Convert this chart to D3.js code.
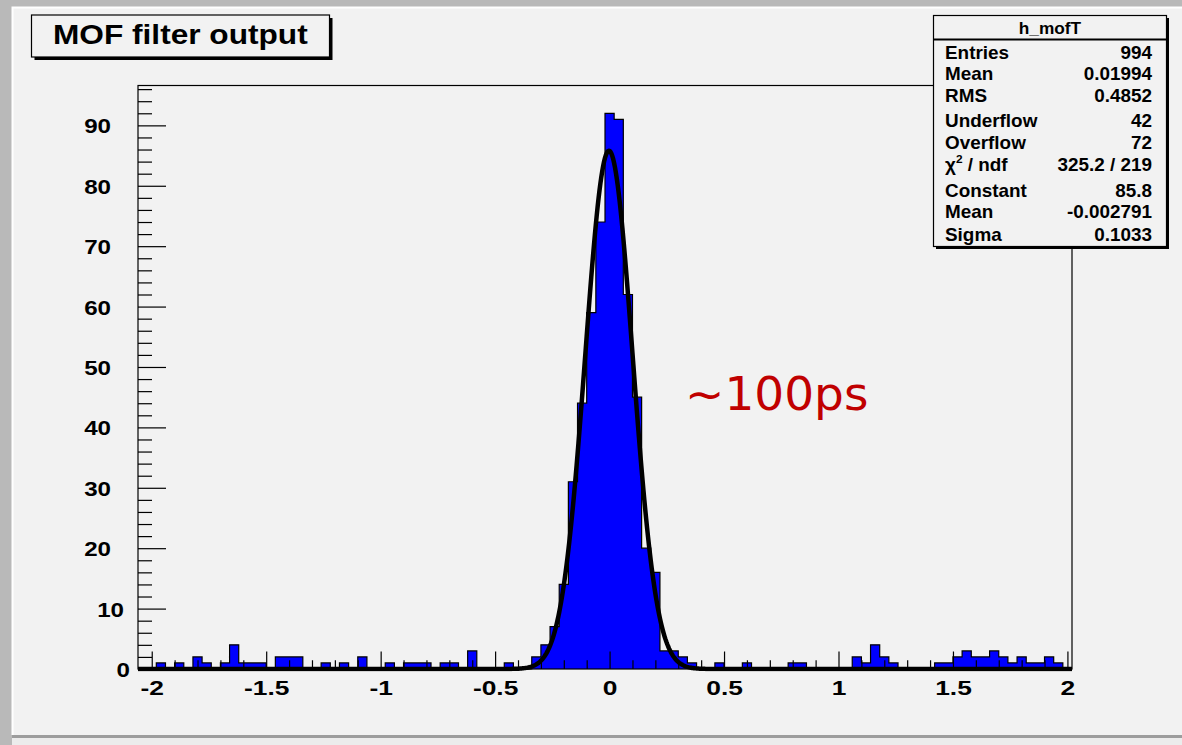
<!DOCTYPE html>
<html>
<head>
<meta charset="utf-8">
<script src="https://cdn.jsdelivr.net/npm/d3@7/dist/d3.min.js"></script>
<style>
  body { margin: 0; background: #b9b9b9; }
  svg { display: block; }
  text { font-family: "Liberation Sans", Arial, sans-serif; font-weight: bold; fill: #000; }
</style>
</head>
<body>
<div id="chart"></div>
<script>
// MOF filter output histogram (ROOT style) with gaussian fit

var svgWidth = 1182;
var svgHeight = 745;

// plot frame inside the canvas
var frame = { left: 138, right: 1072, top: 85.5, bottom: 669 };

// binning of h_mofT (visible range)
var xMin = -2.06;
var xMax = 2.02;
var binWidth = 0.04;

// bin contents, bins centred on -2.04, -2.00, ... 2.00
var counts = [
  0, 0, 1, 0, 1, 0, 2, 1, 0, 1,
  4, 1, 1, 1, 0, 2, 2, 2, 0, 0,
  1, 0, 1, 0, 2, 0, 0, 1, 0, 1,
  1, 1, 0, 1, 1, 0, 3, 0, 0, 0,
  1, 0, 0, 2, 4, 7, 14, 31, 44, 59,
  74, 92, 91, 62, 45, 20, 16, 3, 3, 2,
  1, 0, 0, 1, 0, 0, 1, 0, 0, 0,
  0, 1, 1, 0, 0, 0, 0, 0, 2, 1,
  4, 2, 1, 0, 0, 0, 0, 1, 1, 2,
  3, 2, 2, 3, 2, 1, 2, 1, 1, 2,
  1, 0
];

var xTicks = [-2, -1.5, -1, -0.5, 0, 0.5, 1, 1.5, 2];
var yTicks = [0, 10, 20, 30, 40, 50, 60, 70, 80, 90];

// fit result shown in the stats box
var fitConstant = 85.8;
var fitMean = -0.002791;
var fitSigma = 0.1033;

var statsTitle = "h_mofT";
var statsLabels = ["Entries", "Mean", "RMS", "Underflow", "Overflow", "chi2", "Constant", "Mean", "Sigma"];
var statsValues = ["994", "0.01994", "0.4852", "42", "72", "325.2 / 219", "85.8", "-0.002791", "0.1033"];
var statsBaselines = [58.5, 80, 101.5, 127, 148.5, 170.5, 196.5, 218, 240.5];

var svg = d3.select("#chart")
    .append("svg")
    .attr("width", svgWidth)
    .attr("height", svgHeight);

// canvas background + slide border
svg.append("rect").attr("width", svgWidth).attr("height", svgHeight).attr("fill", "#b9b9b9");
svg.append("rect")
    .attr("x", 12).attr("y", 7)
    .attr("width", svgWidth - 12).attr("height", 728)
    .attr("fill", "#f2f2f2");
svg.append("path")
    .attr("d", "M12.5,735 V7.5 H1182")
    .attr("stroke", "#ffffff").attr("stroke-width", 2).attr("fill", "none");
svg.append("rect").attr("x", 12).attr("y", 735).attr("width", svgWidth - 12).attr("height", 3).attr("fill", "#9d9d9d");
svg.append("rect").attr("x", 12).attr("y", 738).attr("width", svgWidth - 12).attr("height", 7).attr("fill", "#ececec");

var xScale = d3.scaleLinear()
    .domain([xMin, xMax])
    .range([frame.left, frame.right]);

var yScale = d3.scaleLinear()
    .domain([0, d3.max(counts) * 1.05])
    .range([frame.bottom, frame.top]);

// clip a little below the frame so the fit line lying on zero stays thick
svg.append("clipPath").attr("id", "frameClip")
  .append("rect")
    .attr("x", frame.left).attr("y", frame.top)
    .attr("width", frame.right - frame.left)
    .attr("height", frame.bottom - frame.top + 2.5);

var plot = svg.append("g").attr("clip-path", "url(#frameClip)");

// histogram as a step shape
var steps = [];
counts.forEach(function(c, i) {
    var x0 = xMin + i * binWidth;
    steps.push([x0, c]);
    steps.push([x0 + binWidth, c]);
});

var area = d3.area()
    .x(d => xScale(d[0]))
    .y0(yScale(0))
    .y1(d => yScale(d[1]));

var outline = d3.line()
    .x(d => xScale(d[0]))
    .y(d => yScale(d[1]));

plot.append("path")
    .datum(steps)
    .attr("d", area)
    .attr("fill", "#0000ff");

plot.append("path")
    .datum(steps)
    .attr("d", outline)
    .attr("fill", "none")
    .attr("stroke", "#000")
    .attr("stroke-width", 1.2);

// gaussian fit from the fitted parameters
function gaus(v) {
    var t = (v - fitMean) / fitSigma;
    return fitConstant * Math.exp(-0.5 * t * t);
}
var fitPoints = d3.range(xMin, xMax + 1e-9, 0.004).map(v => [v, gaus(v)]);

plot.append("path")
    .datum(fitPoints)
    .attr("d", outline)
    .attr("fill", "none")
    .attr("stroke", "#000")
    .attr("stroke-width", 4.5)
    .attr("stroke-linejoin", "round");

// frame
svg.append("rect")
    .attr("x", frame.left).attr("y", frame.top)
    .attr("width", frame.right - frame.left)
    .attr("height", frame.bottom - frame.top)
    .attr("fill", "none")
    .attr("stroke", "#000")
    .attr("stroke-width", 1.2);

// x axis, ticks pointing into the frame
var xMinor = d3.range(-20, 21).map(k => k / 10).filter(v => Math.abs(v * 2 - Math.round(v * 2)) > 1e-6);

svg.append("g")
    .attr("transform", `translate(0, ${frame.bottom})`)
    .call(d3.axisBottom(xScale).tickValues(xMinor).tickSizeInner(-8.75).tickSizeOuter(0).tickFormat(""));

var xAxis = svg.append("g")
    .attr("transform", `translate(0, ${frame.bottom})`)
    .call(d3.axisBottom(xScale).tickValues(xTicks).tickSizeInner(-17.5).tickSizeOuter(0)
        .tickFormat(d => String(d)));

xAxis.selectAll("text")
    .attr("y", 0).attr("dy", 0)
    .attr("transform", "translate(0, 25.5) scale(1.32, 1)")
    .style("font-size", "20px");

// y axis
var yMinor = d3.range(0, 97, 2).filter(v => v % 10 !== 0);

svg.append("g")
    .attr("transform", `translate(${frame.left}, 0)`)
    .call(d3.axisLeft(yScale).tickValues(yMinor).tickSizeInner(-14).tickSizeOuter(0).tickFormat(""));

var yAxis = svg.append("g")
    .attr("transform", `translate(${frame.left}, 0)`)
    .call(d3.axisLeft(yScale).tickValues(yTicks).tickSizeInner(-28).tickSizeOuter(0));

// the low labels sit closer to the axis in the original
yAxis.selectAll("text")
    .attr("x", 0).attr("dy", 0)
    .attr("transform", d => `translate(${d === 0 ? -8 : d === 10 ? -14 : -27}, 7.5) scale(1.15, 1)`)
    .style("font-size", "21px");

svg.selectAll(".domain").remove();
svg.selectAll(".tick line").attr("stroke", "#000").attr("stroke-width", 1.2);

// title box
var titleBox = svg.append("g");
titleBox.append("rect")
    .attr("x", 34.5).attr("y", 18).attr("width", 298).attr("height", 42)
    .attr("fill", "#000");
titleBox.append("rect")
    .attr("x", 31.5).attr("y", 15).attr("width", 298).attr("height", 42)
    .attr("fill", "#f2f2f2").attr("stroke", "#000").attr("stroke-width", 1.2);
titleBox.append("text")
    .attr("transform", "translate(53, 44) scale(1.13, 1)")
    .style("font-size", "28px")
    .text("MOF filter output");

// stats box
var stats = svg.append("g");
stats.append("rect")
    .attr("x", 936).attr("y", 18).attr("width", 233).attr("height", 231)
    .attr("fill", "#000");
stats.append("rect")
    .attr("x", 933.5).attr("y", 15.5).attr("width", 233).attr("height", 231)
    .attr("fill", "#f2f2f2").attr("stroke", "#000").attr("stroke-width", 1.2);
stats.append("line")
    .attr("x1", 933.5).attr("x2", 1166.5).attr("y1", 39.5).attr("y2", 39.5)
    .attr("stroke", "#000").attr("stroke-width", 2);
stats.append("text")
    .attr("transform", "translate(1050, 34) scale(1.08, 1)")
    .attr("text-anchor", "middle")
    .style("font-size", "16px")
    .text(statsTitle);

statsLabels.forEach(function(label, i) {
    var t = stats.append("text")
        .attr("transform", `translate(945, ${statsBaselines[i]}) scale(1.08, 1)`)
        .style("font-size", "17.5px");
    if (label === "chi2") {
        t.append("tspan").text("\u03c7");
        t.append("tspan").attr("dy", -8).style("font-size", "11px").text("2");
        t.append("tspan").attr("dy", 8).text(" / ndf");
    } else {
        t.text(label);
    }
    stats.append("text")
        .attr("transform", `translate(1152, ${statsBaselines[i]}) scale(1.08, 1)`)
        .attr("text-anchor", "end")
        .style("font-size", "17.5px")
        .text(statsValues[i]);
});

// annotation
svg.append("text")
    .attr("x", 685).attr("y", 410)
    .style("font-family", "'DejaVu Sans', Verdana, sans-serif")
    .style("font-weight", "normal")
    .style("font-size", "47px")
    .style("fill", "#c00000")
    .text("~100ps");
</script>
</body>
</html>
